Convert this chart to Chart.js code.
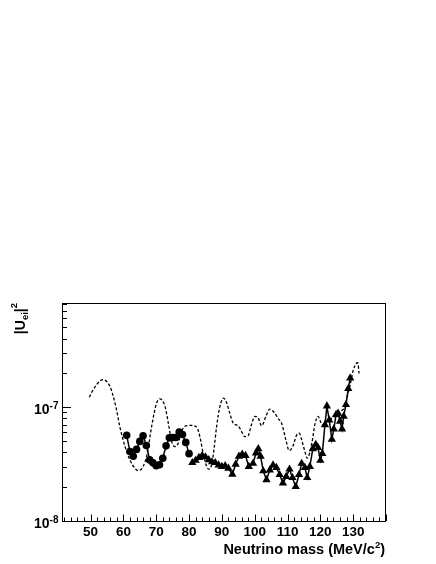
<!DOCTYPE html>
<html>
<head>
<meta charset="utf-8">
<script src="https://cdn.jsdelivr.net/npm/chart.js@4.4.1/dist/chart.umd.min.js"></script>
<style>
  html, body { margin: 0; padding: 0; background: #fff; }
  #wrap { width: 436px; height: 564px; }
</style>
</head>
<body>
<div id="wrap"><canvas id="c" width="436" height="564"></canvas></div>
<script>
// ── data ──
// dashed smooth curve
const curveMass = [49.6, 50.7, 51.8, 53.7, 55.9, 57.7, 58.9, 60.5, 62.0, 63.5, 64.5, 66.0, 67.3, 68.6, 70.1, 71.1, 72.7, 73.7, 74.7, 75.7,
  76.7, 77.7, 78.8, 80.5, 82.3, 83.3, 84.3, 85.4, 86.1, 87.0, 87.7, 88.4, 89.4, 90.5, 91.4, 92.4, 93.5, 95.0, 96.0, 97.0,
  98.0, 99.0, 100.1, 101.1, 102.1, 103.6, 104.6, 105.9, 107.2, 108.2, 109.5, 110.5, 111.6, 112.8, 113.6, 114.3, 115.3, 116.0, 117.4, 118.4,
  119.3, 120.2, 121.0, 122.0, 123.5, 125.0, 126.5, 127.6, 128.1, 129.1, 129.9, 130.9, 131.4, 131.8];
const curveU = [1.22e-7, 1.40e-7, 1.57e-7, 1.74e-7, 1.52e-7, 1.01e-7, 6.75e-8, 4.5e-8, 3.44e-8, 2.9e-8, 2.77e-8, 3.0e-8, 3.94e-8, 6.75e-8, 1.08e-7, 1.18e-7, 1.01e-7, 7.2e-8, 5.0e-8, 4.5e-8,
  4.82e-8, 6.1e-8, 6.8e-8, 6.9e-8, 6.7e-8, 5.5e-8, 3.94e-8, 3.0e-8, 2.85e-8, 3.22e-8, 4.5e-8, 6.75e-8, 1.01e-7, 1.2e-7, 1.1e-7, 8.85e-8, 7.2e-8, 6.85e-8, 6.1e-8, 5.5e-8,
  5.6e-8, 7.0e-8, 8.3e-8, 8.0e-8, 6.85e-8, 8.55e-8, 9.6e-8, 9.0e-8, 7.9e-8, 7.2e-8, 5.15e-8, 4.15e-8, 4.5e-8, 5.7e-8, 5.9e-8, 5.15e-8, 4.07e-8, 3.56e-8, 4.82e-8, 7.2e-8,
  8.3e-8, 7.3e-8, 6.9e-8, 7.5e-8, 8.0e-8, 8.5e-8, 9.3e-8, 1.02e-7, 1.2e-7, 1.57e-7, 2.05e-7, 2.4e-7, 2.45e-7, 1.98e-7];

// filled circles
const circleMass = [61, 62, 63, 64, 65, 66, 67, 68, 69, 70, 71, 72, 73, 74, 75, 76, 77, 78, 79, 80];
const circleU = [5.65e-8, 4.07e-8, 3.7e-8, 4.25e-8, 5.0e-8, 5.6e-8, 4.6e-8, 3.44e-8, 3.24e-8, 3.06e-8,
  3.12e-8, 3.56e-8, 4.57e-8, 5.37e-8, 5.4e-8, 5.4e-8, 6.05e-8, 5.75e-8, 4.9e-8, 3.9e-8];

// filled triangles
const triMass = [81, 82, 83, 84, 85, 86, 87, 88, 89, 90, 91, 92, 93.2, 94.2, 95.2, 96.2, 97.2, 98.2, 99.5, 100.4,
  101.1, 101.8, 102.6, 103.6, 104.6, 105.6, 106.6, 107.6, 108.6, 109.6, 110.6, 111.5, 112.5, 113.5, 114.3, 115.3, 116.0, 116.8, 117.7, 118.6,
  119.3, 120.0, 120.6, 121.4, 122.0, 122.7, 123.5, 124.1, 124.8, 125.4, 126.0, 126.6, 127.1, 127.8, 128.5, 129.1];
const triU = [3.25e-8, 3.4e-8, 3.6e-8, 3.75e-8, 3.65e-8, 3.45e-8, 3.3e-8, 3.25e-8, 3.1e-8, 3.0e-8, 3.05e-8, 2.9e-8, 2.57e-8, 3.15e-8, 3.7e-8, 3.85e-8, 3.75e-8, 3.0e-8, 3.2e-8, 3.95e-8,
  4.3e-8, 3.7e-8, 2.75e-8, 2.3e-8, 2.8e-8, 3.1e-8, 2.95e-8, 2.55e-8, 2.15e-8, 2.45e-8, 2.85e-8, 2.4e-8, 2.0e-8, 2.55e-8, 3.2e-8, 2.95e-8, 2.4e-8, 3.0e-8, 4.3e-8, 4.7e-8,
  4.4e-8, 3.4e-8, 3.9e-8, 7.0e-8, 1.02e-7, 7.7e-8, 5.2e-8, 6.4e-8, 8.6e-8, 8.8e-8, 7.5e-8, 6.4e-8, 8.3e-8, 1.05e-7, 1.45e-7, 1.8e-7];

// axes
const xMin = 41.3, xMax = 140;
const yMin = 1e-8, yMax = 8.2e-7;
const xTickLabels = ['50', '60', '70', '80', '90', '100', '110', '120', '130'];
const yDecades = [-8, -7];
const xTitle = 'Neutrino mass (MeV/c';

const toPts = (xs, ys) => xs.map((m, i) => ({ x: m, y: ys[i] }));
const FONT = '"Liberation Sans", Arial, Helvetica, sans-serif';

// ── ROOT-like frame, inward ticks and labels ──
const rootAxes = {
  id: 'rootAxes',
  afterDraw(chart) {
    const { ctx, chartArea: a, scales: { x, y } } = chart;
    ctx.save();
    ctx.strokeStyle = '#000';
    ctx.lineWidth = 1;
    ctx.strokeRect(a.left + 0.5, a.top + 0.5, a.right - a.left - 1, a.bottom - a.top);

    // x ticks every 2, majors every 10
    ctx.beginPath();
    for (let v = 42; v <= xMax; v += 2) {
      const px = Math.round(x.getPixelForValue(v)) + 0.5;
      const len = v % 10 === 0 ? 6.5 : 3.5;
      ctx.moveTo(px, a.bottom);
      ctx.lineTo(px, a.bottom - len);
    }
    // y ticks: decades long, 2..9 short
    for (let d = -8; d <= -7; d++) {
      for (let k = 1; k <= 9; k++) {
        const v = k * Math.pow(10, d);
        if (v > yMax) continue;
        const py = Math.round(y.getPixelForValue(v)) + 0.5;
        ctx.moveTo(a.left, py);
        ctx.lineTo(a.left + (k === 1 ? 9 : 5), py);
      }
    }
    ctx.stroke();

    ctx.fillStyle = '#000';
    // x tick labels
    ctx.font = 'bold 13.5px ' + FONT;
    ctx.textAlign = 'center';
    ctx.textBaseline = 'middle';
    xTickLabels.forEach(t => {
      ctx.fillText(t, x.getPixelForValue(+t), 532);
    });

    // y tick labels 10^n
    yDecades.forEach(d => {
      const py = y.getPixelForValue(Math.pow(10, d));
      const sup = String(d);
      ctx.font = 'bold 10px ' + FONT;
      const wSup = ctx.measureText(sup).width;
      ctx.font = 'bold 14px ' + FONT;
      const wBase = ctx.measureText('10').width;
      const right = 58.5;
      ctx.textAlign = 'left';
      ctx.textBaseline = 'alphabetic';
      ctx.fillText('10', right - wSup - wBase, py + 7);
      ctx.font = 'bold 10px ' + FONT;
      ctx.fillText(sup, right - wSup, py + 1.5);
    });

    // x axis title, right aligned
    ctx.textBaseline = 'alphabetic';
    ctx.textAlign = 'left';
    ctx.font = 'bold 14.5px ' + FONT;
    const w1 = ctx.measureText(xTitle).width;
    const w3 = ctx.measureText(')').width;
    ctx.font = 'bold 9.5px ' + FONT;
    const w2 = ctx.measureText('2').width;
    let tx = a.right - 1 - (w1 + w2 + w3);
    ctx.font = 'bold 14.5px ' + FONT;
    ctx.fillText(xTitle, tx, 554);
    ctx.font = 'bold 9.5px ' + FONT;
    ctx.fillText('2', tx + w1, 548);
    ctx.font = 'bold 14.5px ' + FONT;
    ctx.fillText(')', tx + w1 + w2, 554);

    // y axis title |U_ei|^2, rotated, right aligned at the top
    const parts = [
      { t: '|U', f: 'bold 14px ', dy: 0 },
      { t: 'ei', f: 'bold 9.5px ', dy: 3 },
      { t: '|', f: 'bold 14px ', dy: 0 },
      { t: '2', f: 'bold 9.5px ', dy: -8 }
    ];
    let total = 0;
    parts.forEach(p => { ctx.font = p.f + FONT; p.w = ctx.measureText(p.t).width; total += p.w; });
    ctx.translate(24.5, a.top + total);
    ctx.rotate(-Math.PI / 2);
    let cx = 0;
    parts.forEach(p => {
      ctx.font = p.f + FONT;
      ctx.fillText(p.t, cx, p.dy);
      cx += p.w;
    });
    ctx.restore();
  }
};

new Chart(document.getElementById('c'), {
  type: 'line',
  data: {
    datasets: [
      {
        label: 'curve',
        data: toPts(curveMass, curveU),
        borderColor: '#000',
        borderWidth: 1.3,
        borderDash: [3, 2],
        pointRadius: 0,
        tension: 0.4,
        cubicInterpolationMode: 'monotone',
        fill: false
      },
      {
        label: 'circles',
        data: toPts(circleMass, circleU),
        borderColor: '#000',
        borderWidth: 1.5,
        pointStyle: 'circle',
        pointRadius: 3.8,
        pointBackgroundColor: '#000',
        pointBorderColor: '#000',
        pointBorderWidth: 0,
        tension: 0,
        fill: false
      },
      {
        label: 'triangles',
        data: toPts(triMass, triU),
        borderColor: '#000',
        borderWidth: 1.5,
        pointStyle: 'triangle',
        pointRadius: 4.8,
        pointBackgroundColor: '#000',
        pointBorderColor: '#000',
        pointBorderWidth: 0,
        tension: 0,
        fill: false
      }
    ]
  },
  options: {
    responsive: false,
    animation: false,
    devicePixelRatio: 1,
    layout: { padding: { top: 303, right: 50, left: 0, bottom: 0 } },
    plugins: { legend: { display: false }, tooltip: { enabled: false } },
    scales: {
      x: {
        type: 'linear',
        min: xMin,
        max: xMax,
        grid: { display: false },
        border: { display: false },
        ticks: { display: false },
        afterFit: s => { s.height = 43; }
      },
      y: {
        type: 'logarithmic',
        min: yMin,
        max: yMax,
        grid: { display: false },
        border: { display: false },
        ticks: { display: false },
        afterFit: s => { s.width = 62; }
      }
    }
  },
  plugins: [rootAxes]
});
</script>
</body>
</html>
